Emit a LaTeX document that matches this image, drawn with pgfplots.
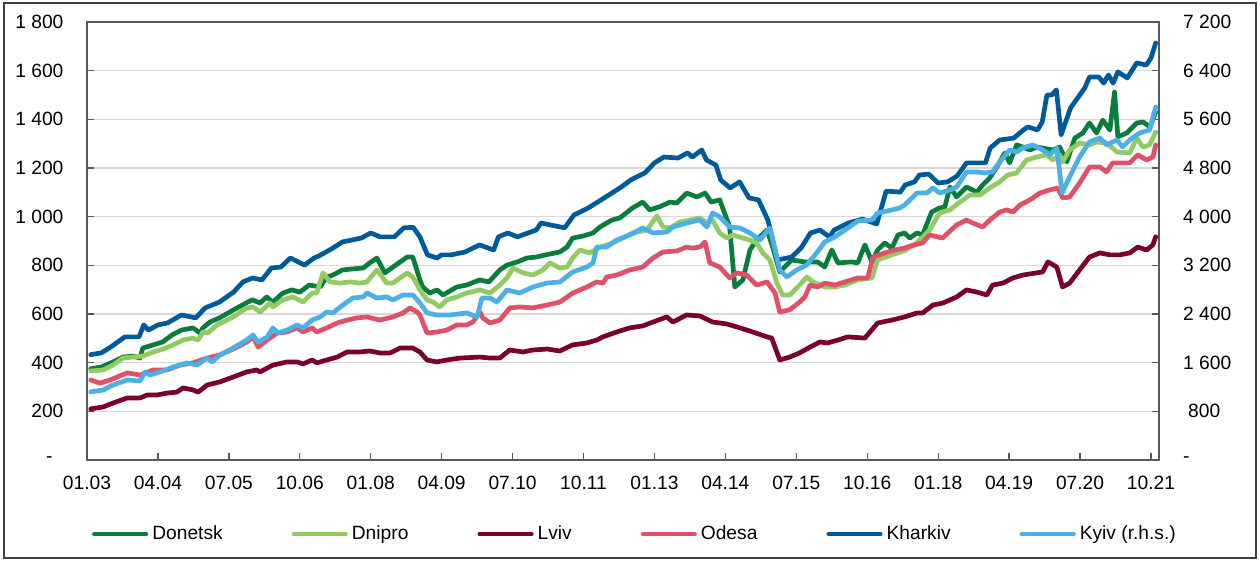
\documentclass[border=0pt]{standalone}
\usepackage{fontspec}
\setmainfont{Liberation Sans}
\usepackage{pgfplots}
\pgfplotsset{compat=1.18}
\definecolor{cDon}{HTML}{0A7D3C}
\definecolor{cDni}{HTML}{92CA64}
\definecolor{cLvi}{HTML}{7A0032}
\definecolor{cOde}{HTML}{E05068}
\definecolor{cKha}{HTML}{005A9A}
\definecolor{cKyi}{HTML}{4AB0E6}
\definecolor{cFrame}{HTML}{595959}
\definecolor{cGrid}{HTML}{D9D9D9}
\newcommand{\tf}{\fontsize{19.2}{23}\selectfont}
\pgfplotsset{
  every axis plot/.append style={line width=4.7pt, line join=round, line cap=round},
  legend image code/.code={\draw[#1, line width=4.3pt, line cap=round] (2.15pt,0pt) -- (54pt,0pt);},
}
\begin{document}
\tf
\begin{tikzpicture}
\useasboundingbox (0,0) rectangle (1260pt,562pt);
\draw[color=black!75, line width=1.2pt] (4pt,4pt) rectangle (1256pt,559pt);
\begin{axis}[
  at={(87pt,102pt)}, anchor=south west,
  scale only axis, width=1072pt, height=438pt,
  xmin=0, xmax=226.7, ymin=0, ymax=1800,
  xtick={0,15,...,225},
  xticklabels={01.03,04.04,07.05,10.06,01.08,04.09,07.10,10.11,01.13,04.14,07.15,10.16,01.18,04.19,07.20,10.21},
  ytick={0,200,...,1800},
  yticklabels={{-\hspace*{11pt}},200,400,600,800,1 000,1 200,1 400,1 600,1 800},
  xtick pos=bottom, ytick pos=left,
  tick align=inside, major tick length=7pt,
  tick style={color=cFrame, line width=1.3pt},
  axis line style={color=cFrame, line width=1.5pt},
  ymajorgrids, grid style={color=cGrid, line width=1.3pt},
  xticklabel style={yshift=-9.6pt, font=\tf},
  yticklabel style={xshift=-17pt, font=\tf},
  legend columns=6,
  legend style={at={(0.5107,-0.169)}, anchor=center, draw=none, fill=none, font=\tf,
    nodes={inner sep=1pt},
    /tikz/every odd column/.append style={column sep=3pt},
    /tikz/every even column/.append style={column sep=68pt},
    cells={anchor=west}},
]
% Donetsk
\addplot[color=cDon] coordinates {
(0.8,375)(3,382)(5.5,403)(7.6,423)(9.7,427)(11.2,419)(11.8,460)(14,473)(16,485)(18,514)(20,534)(22.4,543)(23.9,522)(24.5,543)(26,567)(28,584)(31,617)(34,649)(35,658)(36.6,645)(38,670)(39.3,649)(41.4,686)(43.3,699)(45,690)(47,719)(49.3,711)(50.7,752)(52,760)(54,781)(56,785)(58.4,789)(59.8,810)(61.3,830)(63,769)(64.7,793)(67.7,834)(68.9,834)(70.4,740)(71,711)(72.5,686)(74,699)(75.3,678)(78.2,711)(80.3,719)(83,740)(85,732)(87.3,781)(88.8,801)(91,814)(93,830)(95,834)(97,843)(100,855)(101.5,875)(102.7,912)(105,921)(107,933)(108.5,958)(111,986)(112.7,995)(115.4,1036)(117.5,1060)(119,1028)(121,1040)(123.3,1060)(124.7,1056)(126.8,1097)(129,1081)(130.7,1097)(132,1060)(133.8,1069)(135.9,958)(137,711)(138.7,740)(140.2,863)(141.6,904)(143.8,945)(145,875)(146.5,773)(149,822)(151.8,814)(154.5,814)(156,793)(157.5,863)(158.8,810)(161.7,814)(163,810)(164.5,884)(166,814)(167.2,863)(168.7,892)(170.2,871)(171.5,925)(172.9,933)(174,912)(175.5,933)(176.7,925)(178.6,1019)(180.3,1036)(181.4,1040)(182.5,1122)(183.9,1081)(186,1122)(188.2,1101)(189.4,1130)(190.9,1159)(192.4,1204)(194.1,1262)(195.1,1221)(196.6,1295)(197.9,1286)(199.4,1274)(200.8,1286)(202.1,1282)(204.2,1274)(205.7,1286)(207.2,1225)(208.9,1323)(210.6,1344)(212,1385)(213.5,1344)(214.8,1397)(216.3,1356)(217.3,1512)(218,1328)(219.9,1344)(222,1385)(223.3,1389)(224.8,1369)(226,1430)
};
\addlegendentry{Donetsk}
% Dnipro
\addplot[color=cDni] coordinates {
(0.8,366)(3.4,370)(5.5,390)(7.6,419)(9.7,423)(11.8,427)(14,444)(16.1,456)(18.2,473)(20.3,493)(22.4,501)(23.5,493)(24.5,526)(25.6,522)(27.5,555)(30.9,588)(33.8,625)(35.1,629)(36.6,608)(38.7,645)(39.3,629)(41.4,658)(43.5,670)(45.7,649)(47.6,686)(48.6,686)(49.9,769)(51.4,732)(53.5,727)(55.6,732)(57.7,727)(59.2,732)(61.3,781)(63.4,727)(64.7,727)(67.7,769)(68.9,752)(70.4,699)(71.9,658)(73.2,649)(74.6,629)(76.1,658)(78.2,670)(80.3,686)(83.1,699)(85.2,686)(87.3,719)(88.8,748)(90.1,789)(92.2,769)(94.3,760)(96.4,781)(97.9,810)(100,789)(101.5,793)(102.7,830)(104.2,863)(106.3,851)(108.5,875)(111.2,892)(113.3,912)(115.4,933)(118.4,945)(120.5,1003)(121.8,958)(123.3,954)(125.4,978)(127.5,986)(129.6,995)(131.1,974)(132.3,986)(133.8,933)(135.3,912)(136.6,925)(138.7,912)(140.2,904)(141.6,892)(142.9,851)(144.4,822)(145.9,727)(147.1,678)(148.6,678)(150.7,719)(152.2,752)(153.5,732)(156,711)(158.1,711)(160.3,719)(163,740)(166,748)(167.2,822)(170.2,843)(172.9,860)(175.5,892)(178.2,945)(180.3,1015)(182.5,1028)(184.6,1060)(186.7,1089)(188.8,1089)(190.9,1118)(193,1143)(194.7,1171)(196.6,1180)(198.7,1233)(200.8,1245)(203,1254)(204.2,1233)(205.7,1254)(206.3,1225)(207.8,1274)(209.9,1303)(212,1295)(213.5,1307)(215.6,1303)(217.8,1266)(220.5,1262)(222,1323)(223.3,1286)(224.7,1295)(226,1348)
};
\addlegendentry{Dnipro}
% Lviv
\addplot[color=cLvi] coordinates {
(0.8,210)(3.4,218)(5.5,234)(8.5,255)(11.2,255)(12.7,267)(14.8,267)(16.9,275)(19,279)(20.3,296)(22.4,288)(23.5,279)(25.4,308)(28.1,321)(30.9,341)(33.8,362)(35.9,370)(36.6,362)(39.3,390)(42.3,403)(44.4,403)(45.7,395)(47.6,411)(48.6,399)(50.7,411)(52.9,423)(55,444)(57.7,444)(59.8,448)(61.9,440)(64.1,440)(66.2,460)(68.9,460)(70.4,444)(71.9,411)(74,403)(76.1,411)(78.9,419)(83.1,423)(85.2,419)(87.3,419)(89.4,452)(92.2,444)(94.3,452)(97.3,456)(100,448)(102.7,473)(105.7,481)(107.8,493)(109.1,506)(112,526)(114.8,543)(117.5,551)(119.7,567)(122.6,588)(123.9,567)(126.8,596)(129.6,592)(132.3,567)(135.3,559)(138.1,543)(140.8,526)(143.8,506)(144.8,501)(146.5,411)(148.6,423)(150.7,440)(152.9,464)(155,485)(156.6,481)(158.8,493)(160.9,506)(164.5,501)(167.2,563)(170.2,575)(172.9,588)(175.5,604)(176.7,604)(178.9,637)(181,645)(183.9,670)(186,699)(188.2,690)(190.3,678)(191.5,719)(193.7,727)(195.8,748)(197.9,760)(200.8,769)(202.1,773)(203.2,814)(205.1,793)(206.3,711)(207.8,727)(209.9,781)(212,834)(214.2,851)(216.3,843)(218.4,843)(220.5,851)(222.2,875)(224.1,863)(225.4,884)(226,917)
};
\addlegendentry{Lviv}
% Odesa
\addplot[color=cOde] coordinates {
(0.8,329)(2.7,316)(4.9,329)(8.5,358)(11.2,349)(14,370)(16.9,370)(19.7,390)(22.4,399)(25.4,419)(28.1,432)(30.9,456)(33.8,485)(35.1,506)(36.2,464)(38.1,493)(40.2,522)(42.3,526)(44.4,543)(45.7,526)(47.6,543)(48.6,526)(50.7,543)(52.9,563)(55,575)(57.1,584)(59.2,588)(61.9,575)(64.7,588)(66.8,604)(68.3,625)(69.8,608)(70.4,596)(71.9,522)(74,526)(76.1,534)(78.2,555)(80.3,555)(81.6,567)(83.1,608)(83.7,584)(85.2,563)(87.3,575)(89.4,625)(91.5,629)(94.3,625)(97.3,637)(100,649)(102.7,686)(105.7,711)(107.8,732)(109.1,727)(109.9,752)(112,760)(114.8,781)(117.5,793)(119.7,830)(121.8,855)(124.7,859)(126.8,875)(128.1,871)(129.6,875)(130.7,896)(131.7,810)(133.8,793)(135.9,748)(137.4,769)(139.5,760)(141.6,719)(143.8,732)(145.5,686)(146.5,608)(148.6,617)(150.7,649)(151.8,670)(152.9,719)(154.5,711)(156,727)(158.1,719)(160.3,732)(163,748)(165.1,748)(166.2,834)(168.7,851)(170.8,863)(172.9,871)(174.2,880)(176.7,892)(178.2,925)(180.9,912)(183.9,966)(186,986)(187.3,974)(189.4,958)(190.9,986)(193,1019)(194.5,1028)(195.8,1019)(197.3,1048)(199.4,1069)(201.5,1097)(203.6,1110)(205.3,1118)(206.3,1077)(207.8,1081)(209.9,1138)(212,1204)(214.2,1204)(215.6,1184)(216.9,1221)(219,1221)(220.5,1221)(222.2,1254)(224.1,1233)(225.4,1245)(226,1295)
};
\addlegendentry{Odesa}
% Kharkiv
\addplot[color=cKha] coordinates {
(0.8,433)(3,440)(5,464)(8,506)(11,506)(12,555)(13,534)(15,555)(17,563)(20,596)(23,584)(25,625)(28,649)(31,690)(33,732)(35,748)(37,740)(39,789)(41,793)(43,830)(46,801)(48,830)(49,838)(52,871)(54,896)(56,904)(58,912)(60,933)(62,917)(65,917)(67,954)(69,956)(70.4,917)(72,843)(74,830)(75,843)(77,843)(80,855)(83,884)(86,863)(87,917)(89,933)(91,917)(95,945)(96,974)(101,954)(103,1007)(106,1036)(108,1060)(111,1097)(113,1122)(115,1151)(118,1180)(120,1221)(122,1245)(125,1241)(127,1262)(128,1245)(130,1274)(131,1233)(133,1212)(134,1151)(136,1118)(138,1143)(140,1077)(142,1069)(144,986)(146,822)(149,834)(151,871)(153,933)(155,945)(157,917)(158,945)(161,974)(164,990)(167,970)(169,1105)(172,1101)(173,1130)(175,1143)(176,1171)(178,1175)(180,1138)(182,1143)(184,1167)(186,1221)(188,1221)(190,1221)(191,1282)(193,1315)(196,1323)(198,1356)(199,1369)(201,1356)(202,1389)(203,1500)(204,1500)(205,1521)(206,1336)(208,1447)(211,1529)(212,1574)(214,1574)(215,1549)(216,1582)(217,1549)(218,1595)(220,1570)(222,1632)(224,1623)(225,1652)(226,1714)
};
\addlegendentry{Kharkiv}
\addlegendimage{color=cKyi}
\addlegendentry{Kyiv (r.h.s.)}
\end{axis}
\begin{axis}[
  at={(87pt,102pt)}, anchor=south west,
  scale only axis, width=1072pt, height=438pt,
  xmin=0, xmax=226.7, ymin=0, ymax=7200,
  axis x line=none, axis y line*=right,
  ytick={0,800,...,7200},
  yticklabels={-,{\hspace*{5pt}800},1 600,2 400,3 200,4 000,4 800,5 600,6 400,7 200},
  ytick pos=right,
  tick align=inside, major tick length=7pt,
  tick style={color=cFrame, line width=1.3pt},
  axis line style={color=cFrame, line width=1.5pt},
  yticklabel style={anchor=west, xshift=17.6pt, font=\tf},
]
% Kyiv (r.h.s.)
\addplot[color=cKyi] coordinates {
(0.8,1120)(3.4,1151)(5.5,1233)(8.5,1315)(11.2,1299)(12.3,1447)(13.3,1397)(15.4,1447)(18.2,1529)(21.1,1595)(23.3,1562)(25.4,1677)(26.4,1611)(28.1,1726)(30.9,1841)(33.8,1973)(35.1,2055)(36.2,1940)(38.1,2022)(39.3,2170)(40.4,2088)(42.3,2137)(44.4,2219)(45.7,2170)(47.6,2302)(49.3,2351)(50.7,2433)(52,2417)(54.1,2548)(56.2,2663)(58.4,2680)(59.2,2745)(61.3,2663)(63.4,2680)(64.7,2630)(66.8,2713)(68.9,2713)(70.4,2581)(71.9,2417)(74,2384)(76.7,2384)(80.3,2417)(82.5,2351)(83.5,2663)(85.2,2663)(86.7,2598)(88.8,2795)(91.5,2745)(94.3,2844)(97.3,2910)(100,2926)(102.7,3091)(105.7,3173)(107,3239)(107.8,3502)(109.9,3502)(112,3617)(114.8,3699)(117.5,3814)(119.7,3732)(122.6,3748)(123.9,3831)(126.8,3896)(129.6,3946)(131.1,3831)(132.3,4061)(133.8,3995)(135.9,3831)(138.1,3814)(140.2,3732)(142.3,3617)(144.4,3814)(146.5,3124)(148,3009)(150.1,3124)(152.2,3206)(154.3,3403)(156,3584)(158.1,3666)(160.3,3781)(163,3929)(166,3946)(167.2,4061)(170.2,4110)(171.9,4143)(172.9,4192)(174,4274)(175.5,4389)(177.6,4389)(178.9,4472)(180.3,4389)(182.5,4439)(183.9,4488)(186,4735)(188.2,4735)(189.8,4718)(191.5,4735)(193,4899)(195.1,5096)(196.6,5064)(197.9,5129)(200,5179)(202.1,5096)(203.6,5014)(205.1,5129)(206.2,4389)(207.8,4653)(209.9,4981)(212,5228)(214.2,5294)(215.6,5179)(217.8,5261)(219,5146)(220.5,5261)(222.6,5376)(224.7,5425)(226,5803)
};
\end{axis}
\end{tikzpicture}
\end{document}
